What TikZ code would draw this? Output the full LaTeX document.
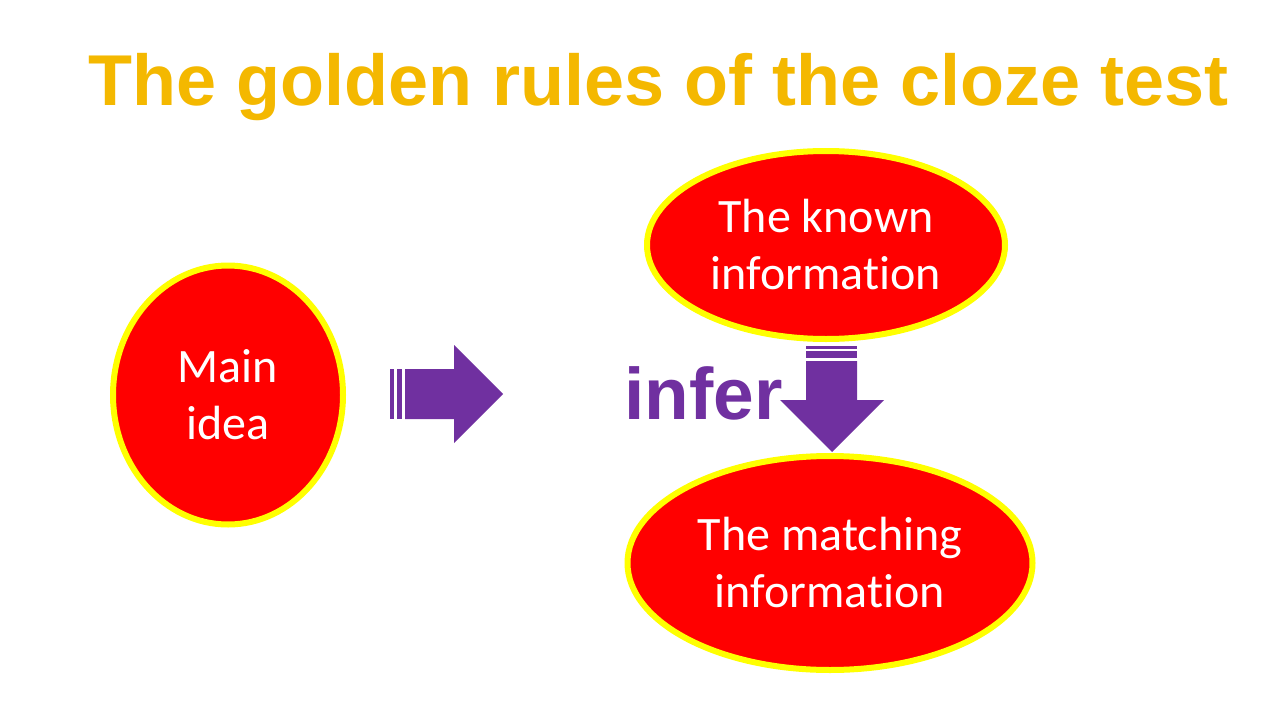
\documentclass[tikz,border=0pt]{standalone}
\usepackage{fontspec}
\setmainfont[Ligatures=NoCommon]{Carlito}
\newfontfamily\arialb[BoldFont={Liberation Sans Bold}]{Liberation Sans}
\usetikzlibrary{shapes.geometric}
\definecolor{gold}{RGB}{244,184,0}
\definecolor{purp}{RGB}{112,48,160}
\definecolor{ered}{RGB}{255,0,0}
\definecolor{eyel}{RGB}{255,255,0}
\begin{document}
\begin{tikzpicture}[x=1pt,y=-1pt,
  bubble/.style={ellipse,draw=eyel,fill=ered,line width=6pt,inner sep=0pt,
    text=white,align=center,font=\fontsize{48}{57}\selectfont},
  blockarrow/.style={fill=purp,draw=none}]
\useasboundingbox (0,0) rectangle (1280,720);
\fill[white] (0,0) rectangle (1280,720);
\node[anchor=base west,text=gold,inner sep=0pt,font=\arialb\bfseries\fontsize{72}{80}\selectfont] (title) at (88,105) {The golden rules of the cloze test};
\node[bubble,minimum width=230pt,minimum height=259pt] (main) at (228,395) {Main\\idea};
\node[bubble,minimum width=358pt,minimum height=188pt] (known) at (826,245) {The known\\information};
\node[bubble,minimum width=405pt,minimum height=214pt] (match) at (830,563) {The matching\\information};
% right block arrow
\fill[blockarrow] (390,369) rectangle (394,419);
\fill[blockarrow] (397,369) rectangle (402,419);
\fill[blockarrow] (405,369) -- (454,369) -- (454,345) -- (503,394) -- (454,443) -- (454,419) -- (405,419) -- cycle;
% down block arrow
\fill[blockarrow] (806,346) rectangle (857,349);
\fill[blockarrow] (806,351) rectangle (857,358);
\fill[blockarrow] (806,361) -- (806,400) -- (780,400) -- (832,452) -- (884,400) -- (857,400) -- (857,361) -- cycle;
\node[anchor=base west,text=purp,inner sep=0pt,font=\arialb\bfseries\fontsize{73}{80}\selectfont] (infer) at (624,419) {infer};
\end{tikzpicture}
\end{document}
